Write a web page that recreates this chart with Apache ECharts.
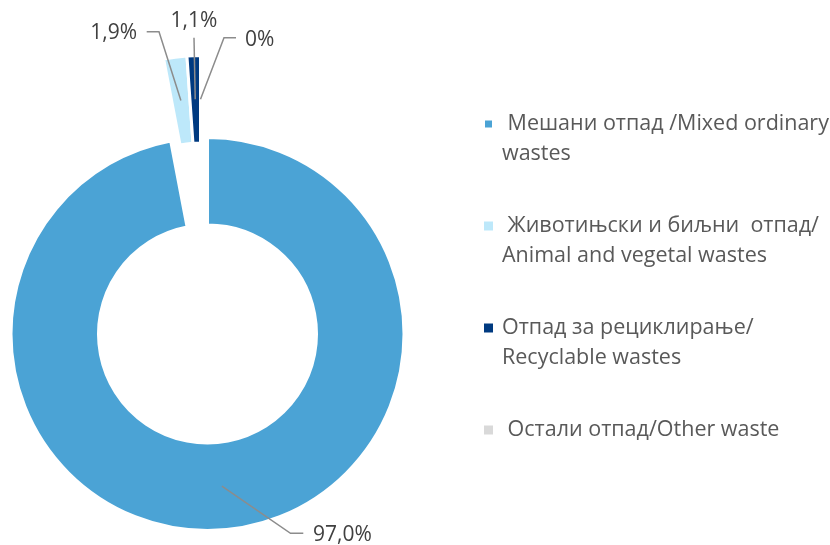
<!DOCTYPE html>
<html>
<head>
<meta charset="utf-8">
<script src="https://cdn.jsdelivr.net/npm/echarts@6/dist/echarts.min.js"></script>
<style>
html, body { margin: 0; padding: 0; background: #fff; }
#chart { width: 830px; height: 545px; }
</style>
</head>
<body>
<div id="chart"></div>
<script>
const categories = [
  ' Мешани отпад /Mixed ordinary\nwastes',
  ' Животињски и биљни  отпад/\nAnimal and vegetal wastes',
  'Отпад за рециклирање/\nRecyclable wastes',
  ' Остали отпад/Other waste'
];
const shares = [97.0, 1.9, 1.1, 0];
const colors = ['#4ba3d5', '#bde8fa', '#003a80', '#d9d9d9'];
// the small slices are pulled out of the ring together
const pulledOut = [false, true, true, true];

// pie geometry
const MAIN_CENTER = [207.5, 334];
const PULLED_CENTER = [200.5, 252];
const R_IN = 109, R_OUT = 196.5;
const MID_R = (R_IN + R_OUT) / 2;
const FONT = '"Open Sans", sans-serif';

// where each percent label sits and where its leader bends
const labelSpots = [
  { x: 313, y: 535, align: 'left', bend: [[290.5, 533.3], [303.3, 533.3]] },
  { x: 137, y: 33, align: 'right', bend: [[159, 31.7], [146.7, 31.7]] },
  { x: 194, y: 21.5, align: 'center', bend: [[194, 37.7]] },
  { x: 245, y: 40, align: 'left', bend: [[224, 37.7], [236, 37.7]] }
];

function pct(v) {
  return v === 0 ? '0%' : v.toFixed(1).replace('.', ',') + '%';
}

// leader starts in the middle of the ring, on the slice it belongs to
function placeLabel(params) {
  const i = params.dataIndex;
  const spot = labelSpots[i];
  const p0 = params.labelLinePoints && params.labelLinePoints[0];
  let pts;
  if (p0) {
    const dx = p0[0] - MAIN_CENTER[0], dy = p0[1] - MAIN_CENTER[1];
    const len = Math.hypot(dx, dy) || 1;
    const c = pulledOut[i] ? PULLED_CENTER : MAIN_CENTER;
    pts = [[c[0] + dx / len * MID_R, c[1] + dy / len * MID_R]].concat(spot.bend);
  }
  return {
    x: spot.x,
    y: spot.y,
    align: spot.align,
    verticalAlign: 'middle',
    labelLinePoints: pts
  };
}

function ring(center, showPulled) {
  return {
    type: 'pie',
    center: center,
    radius: [R_IN, R_OUT],
    startAngle: 90,
    clockwise: true,
    silent: true,
    z: 2,
    itemStyle: { borderColor: '#fff', borderWidth: 3 },
    label: { show: false },
    labelLine: { show: false },
    data: categories.map((name, i) => {
      const visible = pulledOut[i] === showPulled;
      return {
        name: name,
        value: shares[i],
        itemStyle: visible ? { color: colors[i] } : { color: 'transparent', borderWidth: 0 }
      };
    })
  };
}

const labelRing = {
  type: 'pie',
  center: MAIN_CENTER,
  radius: [R_IN, R_OUT],
  startAngle: 90,
  clockwise: true,
  silent: true,
  avoidLabelOverlap: false,
  z: 5,
  itemStyle: { color: 'transparent', borderWidth: 0 },
  label: {
    show: true,
    position: 'outside',
    fontFamily: FONT,
    fontSize: 21,
    color: '#404040',
    formatter: p => pct(shares[p.dataIndex])
  },
  labelLine: {
    show: true,
    showAbove: true,
    lineStyle: { color: '#8c8c8c', width: 1.5 }
  },
  labelLayout: placeLabel,
  data: categories.map((name, i) => ({ name: name, value: shares[i] }))
};

const chart = echarts.init(document.getElementById('chart'), null, { renderer: 'canvas' });

chart.setOption({
  animation: false,
  legend: {
    orient: 'vertical',
    left: 483,
    top: 79,
    padding: 0,
    itemWidth: 9,
    itemHeight: 9,
    itemGap: 12,
    icon: 'rect',
    selectedMode: false,
    data: categories.map((name, i) => ({ name: name, itemStyle: { color: colors[i] } })),
    formatter: name => '\n' + name + (name.includes('\n') ? '' : '\n'),
    textStyle: {
      fontFamily: FONT,
      fontSize: 21.5,
      lineHeight: 30,
      color: '#595959',
      padding: [0, 0, 0, 4]
    }
  },
  series: [
    ring(MAIN_CENTER, false),
    ring(PULLED_CENTER, true),
    labelRing
  ]
});
</script>
</body>
</html>
